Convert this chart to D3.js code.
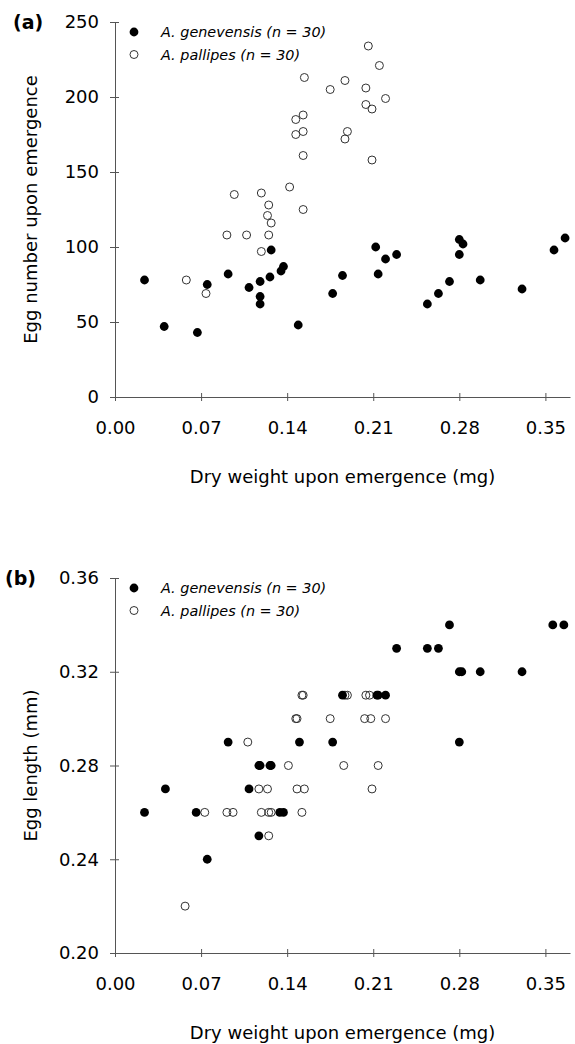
<!DOCTYPE html>
<html>
<head>
<meta charset="utf-8">
<script src="https://cdn.jsdelivr.net/npm/d3@7"></script>
<style>
  body { margin: 0; background: #fff; }
  text { font-family: "DejaVu Sans", Verdana, sans-serif; fill: #000; }
</style>
</head>
<body>
<svg id="chart" width="575" height="1044"></svg>
<script>
// panel (a): egg number vs dry weight
const genWeightA = [0.024, 0.040, 0.067, 0.075, 0.092, 0.109, 0.118, 0.118, 0.118, 0.126,
    0.127, 0.135, 0.137, 0.149, 0.177, 0.185, 0.212, 0.220, 0.229, 0.214,
    0.254, 0.263, 0.272, 0.280, 0.283, 0.280, 0.297, 0.331, 0.357, 0.366];
const genEggs = [78, 47, 43, 75, 82, 73, 77, 67, 62, 80,
    98, 84, 87, 48, 69, 81, 100, 92, 95, 82,
    62, 69, 77, 105, 102, 95, 78, 72, 98, 106];
const palWeightA = [0.058, 0.074, 0.091, 0.097, 0.107, 0.119, 0.119, 0.125, 0.124, 0.127,
    0.125, 0.142, 0.206, 0.215, 0.154, 0.187, 0.175, 0.204, 0.220, 0.204,
    0.209, 0.153, 0.147, 0.153, 0.147, 0.189, 0.187, 0.153, 0.209, 0.153];
const palEggs = [78, 69, 108, 135, 108, 136, 97, 128, 121, 116,
    108, 140, 234, 221, 213, 211, 205, 206, 199, 195,
    192, 188, 185, 177, 175, 177, 172, 161, 158, 125];

// panel (b): egg length vs dry weight
const genWeightB = [0.272, 0.356, 0.365, 0.229, 0.254, 0.263, 0.280, 0.282, 0.297, 0.331,
    0.185, 0.213, 0.214, 0.220, 0.092, 0.150, 0.177, 0.280, 0.117, 0.118,
    0.126, 0.127, 0.041, 0.109, 0.024, 0.066, 0.134, 0.137, 0.117, 0.075];
const genLength = [0.34, 0.34, 0.34, 0.33, 0.33, 0.33, 0.32, 0.32, 0.32, 0.32,
    0.31, 0.31, 0.31, 0.31, 0.29, 0.29, 0.29, 0.29, 0.28, 0.28,
    0.28, 0.28, 0.27, 0.27, 0.26, 0.26, 0.26, 0.26, 0.25, 0.24];
const palWeightB = [0.152, 0.153, 0.187, 0.189, 0.204, 0.207, 0.147, 0.148, 0.175, 0.203,
    0.208, 0.220, 0.108, 0.141, 0.186, 0.214, 0.117, 0.124, 0.148, 0.154,
    0.209, 0.073, 0.091, 0.096, 0.119, 0.125, 0.127, 0.152, 0.125, 0.057];
const palLength = [0.31, 0.31, 0.31, 0.31, 0.31, 0.31, 0.30, 0.30, 0.30, 0.30,
    0.30, 0.30, 0.29, 0.28, 0.28, 0.28, 0.27, 0.27, 0.27, 0.27,
    0.27, 0.26, 0.26, 0.26, 0.26, 0.26, 0.26, 0.26, 0.25, 0.22];

const xTicks = [0, 0.07, 0.14, 0.21, 0.28, 0.35];
const eggTicks = [0, 50, 100, 150, 200, 250];
const lengthTicks = [0.20, 0.24, 0.28, 0.32, 0.36];
const legendLabels = ["A. genevensis (n = 30)", "A. pallipes (n = 30)"];

const svg = d3.select("#chart");
const left = 115, right = 570;

const drawPanel = ({ top, bottom, yDomain, yTicks, yFormat, yTitle, tag, tagX, gen, pal }) => {
    const g = svg.append("g");

    const x = d3.scaleLinear().domain([0, 0.37]).range([left, right]);
    const y = d3.scaleLinear().domain(yDomain).range([bottom, top]);

    const xAxis = g.append("g")
        .attr("transform", `translate(0,${bottom})`)
        .call(d3.axisBottom(x).tickValues(xTicks).tickFormat(d3.format(".2f")).tickSizeOuter(0));
    xAxis.selectAll(".tick line").attr("y1", -4).attr("y2", 4);
    xAxis.selectAll(".tick text").attr("y", 24).attr("font-size", 18);

    const yAxis = g.append("g")
        .attr("transform", `translate(${left},0)`)
        .call(d3.axisLeft(y).tickValues(yTicks).tickFormat(yFormat).tickSizeOuter(0));
    yAxis.selectAll(".tick line").attr("x1", -5).attr("x2", 4);
    yAxis.selectAll(".tick text").attr("x", -16).attr("font-size", 18);

    g.selectAll(".domain, .tick line").attr("stroke", "#555");
    g.selectAll(".tick text").attr("font-family", "DejaVu Sans").attr("fill", "#000");

    g.append("text")
        .attr("x", (left + right) / 2)
        .attr("y", bottom + 86)
        .attr("text-anchor", "middle")
        .attr("font-size", 18)
        .text("Dry weight upon emergence (mg)");

    g.append("text")
        .attr("transform", `translate(37,${(top + bottom) / 2}) rotate(-90)`)
        .attr("text-anchor", "middle")
        .attr("font-size", 18)
        .text(yTitle);

    g.append("text")
        .attr("x", tagX)
        .attr("y", top + 7)
        .attr("font-size", 19)
        .attr("font-weight", "bold")
        .text(tag);

    // open circles first, filled on top
    g.append("g")
        .selectAll("circle")
        .data(d3.zip(pal[0], pal[1]))
        .join("circle")
        .attr("cx", d => x(d[0]))
        .attr("cy", d => y(d[1]))
        .attr("r", 4)
        .attr("fill", "none")
        .attr("stroke", "#333")
        .attr("stroke-width", 1);

    g.append("g")
        .selectAll("circle")
        .data(d3.zip(gen[0], gen[1]))
        .join("circle")
        .attr("cx", d => x(d[0]))
        .attr("cy", d => y(d[1]))
        .attr("r", 4.4)
        .attr("fill", "#000");

    const legend = g.append("g")
        .selectAll("g")
        .data(legendLabels)
        .join("g")
        .attr("transform", (d, i) => `translate(134,${top + 10 + i * 22.5})`);

    legend.append("circle")
        .attr("r", (d, i) => (i === 0 ? 4.4 : 4))
        .attr("fill", (d, i) => (i === 0 ? "#000" : "none"))
        .attr("stroke", (d, i) => (i === 0 ? null : "#333"));

    legend.append("text")
        .attr("x", 27)
        .attr("dy", "0.35em")
        .attr("font-size", 14.4)
        .attr("font-style", "italic")
        .text(d => d);
};

drawPanel({
    top: 22, bottom: 397,
    yDomain: [0, 250], yTicks: eggTicks, yFormat: d3.format("d"),
    yTitle: "Egg number upon emergence",
    tag: "(a)", tagX: 13,
    gen: [genWeightA, genEggs], pal: [palWeightA, palEggs]
});

drawPanel({
    top: 578, bottom: 953,
    yDomain: [0.20, 0.36], yTicks: lengthTicks, yFormat: d3.format(".2f"),
    yTitle: "Egg length (mm)",
    tag: "(b)", tagX: 5,
    gen: [genWeightB, genLength], pal: [palWeightB, palLength]
});
</script>
</body>
</html>
